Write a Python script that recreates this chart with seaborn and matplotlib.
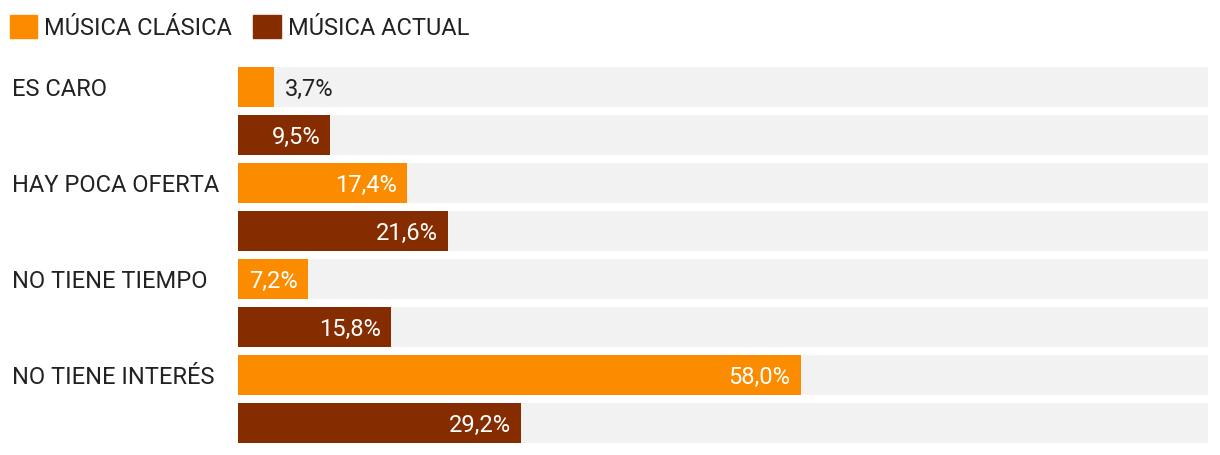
import matplotlib
matplotlib.use("Agg")
import matplotlib.pyplot as plt
import matplotlib.patches as mpatches
import seaborn as sns
import pandas as pd

categories = ["ES CARO", "HAY POCA OFERTA", "NO TIENE TIEMPO", "NO TIENE INTERÉS"]
series = ["MÚSICA CLÁSICA", "MÚSICA ACTUAL"]
clasica = [3.7, 17.4, 7.2, 58.0]
actual = [9.5, 21.6, 15.8, 29.2]

colors = {"MÚSICA CLÁSICA": "#FB8C00", "MÚSICA ACTUAL": "#852D00"}
grey = "#F2F2F2"
text_dark = "#222222"

sns.set_theme(style="white")
plt.rcParams["font.family"] = ["Roboto", "DejaVu Sans"]

rows = []
for c, v1, v2 in zip(categories, clasica, actual):
    rows.append({"row": c + "|0", "cat": c, "serie": series[0], "valor": v1})
    rows.append({"row": c + "|1", "cat": c, "serie": series[1], "valor": v2})
df = pd.DataFrame(rows)
df["full"] = 100.0

W, H = 1220, 456
fig = plt.figure(figsize=(W / 100, H / 100), dpi=100)
ax = fig.add_axes([238 / W, (H - 444) / H, 970 / W, (444 - 68) / H])

bw = 40 / 48
sns.barplot(data=df, x="full", y="row", color=grey, width=bw, ax=ax,
            order=list(df["row"]), saturation=1, errorbar=None, linewidth=0)
sns.barplot(data=df, x="valor", y="row", hue="serie", palette=colors, width=bw,
            dodge=False, ax=ax, order=list(df["row"]), saturation=1,
            errorbar=None, linewidth=0, legend=False)

ax.set_xlim(0, 100)
ax.set_ylim(len(df) - 0.5 - (1 - bw) / 2, -0.5 + (1 - bw) / 2)
ax.set_xlabel("")
ax.set_ylabel("")
ax.set_xticks([])
ax.set_yticks([])
for s in ax.spines.values():
    s.set_visible(False)

fs = 17
px_per_unit = 970 / 100
for i, r in df.iterrows():
    lab = f"{r['valor']:.1f}".replace(".", ",") + "%"
    bar_px = r["valor"] * px_per_unit
    if bar_px > 60:
        ax.annotate(lab, xy=(r["valor"], i), xytext=(-10, -1.5), textcoords="offset pixels",
                    ha="right", va="center", color="white", fontsize=fs)
    else:
        ax.annotate(lab, xy=(r["valor"], i), xytext=(11, -1.5), textcoords="offset pixels",
                    ha="left", va="center", color=text_dark, fontsize=fs)

for k, c in enumerate(categories):
    ax.annotate(c, xy=(12, 2 * k), xycoords=("figure pixels", "data"),
                xytext=(0, -1.5), textcoords="offset pixels",
                ha="left", va="center", color=text_dark, fontsize=fs)

handles = [mpatches.Patch(color=colors[s], label=s) for s in series]
leg = fig.legend(handles=handles, loc="center left",
                 bbox_to_anchor=(10 / W, (H - 28) / H), bbox_transform=fig.transFigure,
                 ncol=2, frameon=False, fontsize=fs, handlelength=1.15,
                 handleheight=1.15, handletextpad=0.3, columnspacing=0.9,
                 borderpad=0, borderaxespad=0)
for t in leg.get_texts():
    t.set_color(text_dark)

fig.savefig("out.png", dpi=100)
